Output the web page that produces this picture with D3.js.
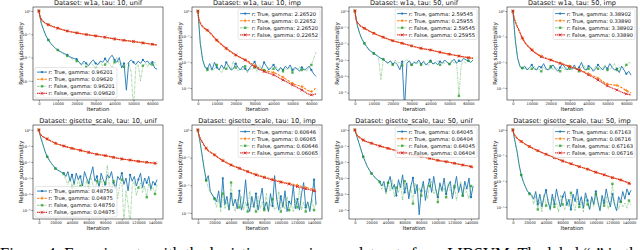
<!DOCTYPE html>
<html><head><meta charset="utf-8">
<script src="https://cdn.jsdelivr.net/npm/d3@7"></script>
<style>body{margin:0;background:#fff;overflow:hidden}svg{display:block}</style>
</head><body>
<svg id="c" width="640" height="250"></svg>
<script>
// ---------- DATA (values are log10 of relative suboptimality) ----------
const iterTop = [0,1250,2500,3750,5000,6250,7500,8750,10000,11250,12500,13750,15000,16250,17500,18750,20000,21250,22500,23750,25000,26250,27500,28750,30000,31250,32500,33750,35000,36250,37500,38750,40000,41250,42500,43750,45000,46250,47500,48750,50000,51250,52500,53750,55000,56250,57500,58750,60000,61250,62500];
const iterBot = [0,2500,5000,7500,10000,12500,15000,17500,20000,22500,25000,27500,30000,32500,35000,37500,40000,42500,45000,47500,50000,52500,55000,57500,60000,62500,65000,67500,70000,72500,75000,77500,80000,82500,85000,87500,90000,92500,95000,97500,100000,102500,105000,107500,110000,112500,115000,117500,120000,122500,125000,127500,130000,132500,135000,137500,140000,142500];
const iterSmoothTop = [0,500,1000,2000,3000,5000,10000,15000,20000,25000,30000,35000,40000,45000,50000,55000,60000,62500];
const iterSmoothBot = [0,1000,2500,5000,10000,20000,30000,40000,50000,60000,70000,80000,90000,100000,110000,120000,130000,140000,142500];

const xTicksTop = [0,10000,20000,30000,40000,50000,60000];
const xTicksBot = [0,20000,40000,60000,80000,100000,120000,140000];

const titles = ["Dataset: w1a, tau: 10, unif","Dataset: w1a, tau: 10, imp","Dataset: w1a, tau: 50, unif","Dataset: w1a, tau: 50, imp",
  "Dataset: gisette_scale, tau: 10, unif","Dataset: gisette_scale, tau: 10, imp","Dataset: gisette_scale, tau: 50, unif","Dataset: gisette_scale, tau: 50, imp"];
const gammas = [["0.96201","0.09620"],["2.26520","0.22652"],["2.59545","0.25955"],["3.38902","0.33890"],
  ["0.48750","0.04875"],["0.60646","0.06065"],["0.64045","0.06404"],["0.67163","0.06716"]];
const yTickExps = [[0,-1,-2,-3],[0,-1,-2,-3],[0,-1,-2,-3,-4,-5],[0,-1,-2,-3],[0,-1,-2,-3,-4,-5],[0,-1,-2,-3],[0,-1,-2,-3,-4,-5],[0,-1,-2,-3]];

// panel 1: w1a tau 10 unif
const p1_blue = [0,-0.53,-0.81,-1.07,-1.24,-1.39,-1.5,-1.6,-1.67,-1.74,-1.79,-1.84,-1.89,-1.96,-2.01,-2.04,-2.07,-2.2,-2.3,-2.15,-2.25,-2.35,-2.2,-2.1,-2.25,-2.3,-2.15,-2.2,-2.05,-2.2,-2.0,-1.9,-2.1,-2.2,-2.0,-2.45,-2.25,-3.4,-2.2,-2.1,-2.2,-2.3,-2.15,-2.25,-2.1,-2.2,-2.15,-2.3,-2.2,-2.45,-2.5];
const p1_green = [0,-0.54,-0.82,-1.08,-1.25,-1.4,-1.51,-1.61,-1.68,-1.76,-1.82,-1.88,-1.93,-2.0,-2.06,-2.1,-2.15,-2.2,-2.35,-2.25,-2.4,-2.3,-2.2,-2.35,-2.45,-2.3,-2.2,-2.35,-2.3,-2.15,-2.3,-2.4,-2.2,-2.0,-2.3,-2.25,-2.4,-2.3,-2.2,-2.6,-4.2,-2.4,-2.3,-3.0,-2.35,-2.25,-2.4,-2.2,-2.3,-2.2,-2.35];
const p1_red = [0,-0.21,-0.31,-0.43,-0.5,-0.59,-0.74,-0.86,-0.94,-1.01,-1.07,-1.13,-1.2,-1.26,-1.31,-1.37,-1.43,-1.46];
const p1_orange = [0,-0.21,-0.31,-0.43,-0.5,-0.59,-0.74,-0.86,-0.94,-1.01,-1.07,-1.13,-1.2,-1.26,-1.31,-1.37,-1.43,-1.46];
// panel 2: w1a tau 10 imp
const p2_blue = [0,-1.26,-1.9,-2.2,-2.25,-2.05,-2.3,-2.0,-2.2,-2.3,-2.1,-2.25,-2.0,-2.15,-2.3,-2.25,-2.05,-2.2,-2.3,-2.15,-2.25,-2.35,-2.2,-2.1,-1.98,-2.2,-2.3,-2.25,-2.0,-2.15,-2.3,-2.2,-2.1,-2.25,-2.35,-2.2,-2.3,-2.15,-2.25,-2.1,-2.3,-2.2,-2.25,-2.35,-2.2,-2.3,-2.25,-2.15,-2.3,-2.45,-2.55];
const p2_green = [0,-1.25,-1.88,-2.15,-2.3,-2.2,-2.35,-2.25,-2.1,-2.3,-2.4,-2.2,-2.25,-2.1,-2.3,-1.95,-2.2,-2.35,-2.25,-2.3,-2.15,-2.4,-2.25,-2.3,-2.2,-2.35,-2.1,-2.25,-2.3,-2.4,-2.2,-2.3,-2.25,-2.15,-2.3,-2.2,-2.35,-2.25,-2.3,-2.2,-2.4,-2.25,-2.3,-2.15,-2.3,-2.25,-2.35,-2.2,-2.1,-1.85,-1.6];
const p2_red = [0,-0.29,-0.42,-0.55,-0.64,-0.74,-1.13,-1.45,-1.71,-1.91,-2.17,-2.36,-2.49,-2.69,-2.88,-3.08,-3.27,-3.23];
const p2_orange = [0,-0.3,-0.43,-0.56,-0.65,-0.76,-1.15,-1.47,-1.72,-1.9,-2.12,-2.32,-2.4,-2.58,-2.82,-2.95,-3.14,-2.97];
// panel 3: w1a tau 50 unif
const p3_blue = [0,-0.86,-1.37,-1.73,-1.98,-2.18,-2.39,-2.49,-2.59,-2.69,-2.8,-2.9,-2.96,-3.1,-3.2,-3.05,-3.25,-3.15,-3.3,-3.6,-3.1,-6.0,-3.2,-3.05,-3.3,-3.15,-3.2,-3.0,-3.25,-3.1,-3.3,-3.2,-3.05,-3.25,-3.15,-3.3,-3.1,-3.2,-3.0,-3.15,-3.25,-3.1,-2.95,-3.2,-3.05,-3.1,-2.9,-3.0,-3.05,-3.15,-3.0];
const p3_green = [0,-0.87,-1.38,-1.74,-1.99,-2.2,-2.4,-2.5,-2.62,-2.72,-2.85,-4.2,-2.95,-3.05,-3.2,-3.1,-3.3,-3.0,-3.2,-3.15,-3.35,-3.1,-2.95,-3.2,-3.3,-3.1,-3.25,-3.15,-3.3,-3.05,-3.2,-3.35,-3.1,-3.25,-3.2,-3.05,-3.3,-3.15,-3.2,-3.1,-3.25,-3.0,-3.2,-3.1,-5.2,-3.3,-3.1,-3.2,-3.05,-3.15,-3.0];
const p3_red = [0,-0.45,-0.65,-0.8,-0.92,-1.06,-1.37,-1.61,-1.82,-1.98,-2.14,-2.29,-2.39,-2.53,-2.65,-2.76,-2.86,-2.9];
const p3_orange = [0,-0.45,-0.65,-0.8,-0.92,-1.06,-1.37,-1.61,-1.82,-1.98,-2.14,-2.29,-2.39,-2.53,-2.65,-2.76,-2.86,-2.9];
// panel 4: w1a tau 50 imp
const p4_blue = [0,-1.13,-1.84,-2.17,-2.23,-2.15,-2.3,-2.2,-2.1,-2.25,-2.3,-2.15,-2.2,-2.05,-2.25,-2.3,-2.2,-2.1,-2.25,-2.35,-2.2,-2.05,-2.2,-2.3,-2.15,-2.25,-2.1,-2.3,-2.2,-2.0,-2.25,-2.3,-2.15,-2.2,-2.35,-2.25,-2.1,-2.2,-2.3,-2.15,-2.25,-2.05,-2.2,-2.3,-2.25,-2.4,-2.15,-2.3,-2.45,-2.35,-2.5];
const p4_green = [0,-1.12,-1.83,-2.15,-2.22,-2.25,-2.2,-2.3,-2.25,-2.15,-2.3,-2.25,-2.35,-2.2,-2.3,-2.25,-2.15,-2.3,-2.2,-2.25,-2.35,-2.2,-2.3,-2.15,-2.25,-2.3,-2.2,-2.25,-2.35,-2.2,-2.1,-2.3,-2.25,-2.2,-2.3,-2.15,-2.25,-2.3,-2.2,-2.1,-2.3,-2.25,-2.2,-2.05,-2.3,-2.2,-2.15,-2.25,-2.1,-2.0,-2.05];
const p4_red = [0,-0.22,-0.35,-0.55,-0.71,-1.05,-1.52,-1.78,-1.91,-2.04,-2.17,-2.3,-2.49,-2.69,-2.92,-3.08,-3.23,-3.27];
const p4_orange = [0,-0.23,-0.36,-0.56,-0.72,-1.06,-1.5,-1.76,-1.9,-2.03,-2.15,-2.28,-2.45,-2.62,-2.85,-2.9,-3.1,-3.2];
// panel 5: gisette tau 10 unif
const p5_blue = [0,-0.52,-0.94,-1.35,-1.67,-1.88,-2.08,-2.23,-2.4,-2.5,-2.56,-2.65,-2.7,-2.9,-2.6,-3.2,-2.8,-3.4,-2.7,-3.1,-2.9,-3.5,-2.6,-3.0,-3.3,-2.8,-2.3,-3.2,-2.9,-3.6,-2.7,-3.1,-3.4,-2.8,-3.0,-2.6,-3.3,-3.7,-2.9,-3.1,-2.7,-3.4,-3.0,-3.8,-2.8,-3.2,-2.9,-3.5,-3.1,-2.7,-3.6,-3.0,-3.3,-2.9,-3.7,-3.2,-3.4,-3.1];
const p5_green = [0,-0.53,-0.95,-1.36,-1.68,-1.9,-2.1,-2.25,-2.42,-2.52,-2.6,-2.7,-2.75,-3.1,-3.4,-2.9,-3.6,-3.2,-3.9,-3.0,-3.5,-3.3,-4.0,-3.1,-3.6,-2.9,-3.4,-3.8,-3.2,-3.5,-3.0,-3.7,-3.3,-2.2,-3.6,-3.9,-3.2,-3.5,-4.3,-3.4,-3.1,-5.8,-3.8,-4.6,-5.9,-3.5,-3.2,-4.1,-3.6,-3.3,-3.9,-3.5,-4.2,-3.3,-3.8,-3.6,-4.0,-3.4];
const p5_red = [0,-0.21,-0.31,-0.42,-0.56,-0.83,-1.0,-1.15,-1.27,-1.4,-1.52,-1.6,-1.71,-1.81,-1.88,-1.96,-2.02,-2.08,-2.1];
const p5_orange = [0,-0.21,-0.31,-0.42,-0.56,-0.83,-1.0,-1.15,-1.27,-1.4,-1.52,-1.6,-1.71,-1.81,-1.88,-1.96,-2.02,-2.08,-2.1];
// panel 6: gisette tau 10 imp
const p6_blue = [0,-0.42,-0.9,-1.39,-1.81,-1.65,-2.23,-2.35,-2.47,-2.6,-2.2,-2.8,-1.75,-2.7,-2.4,-2.9,-2.3,-2.75,-2.5,-2.85,-2.2,-2.9,-2.6,-1.8,-2.7,-2.95,-2.4,-2.8,-2.3,-2.9,-2.5,-2.1,-2.85,-2.6,-2.95,-2.3,-2.75,-1.65,-2.5,-2.9,-2.4,-2.8,-2.2,-2.95,-2.6,-2.7,-2.0,-2.85,-2.5,-2.9,-2.3,-1.9,-2.8,-2.6,-2.95,-2.4,-1.8,-2.7];
const p6_green = [0,-0.43,-0.92,-1.4,-1.83,-2.08,-2.25,-2.38,-2.5,-2.8,-2.5,-2.95,-2.3,-2.85,-2.6,-2.9,-1.9,-2.7,-2.95,-2.5,-2.8,-2.4,-2.9,-2.6,-2.95,-2.2,-2.8,-2.7,-2.95,-2.4,-2.85,-2.6,-2.9,-2.3,-2.95,-2.7,-2.5,-2.9,-2.8,-2.2,-2.95,-2.6,-2.85,-2.4,-2.9,-2.7,-2.95,-2.5,-2.8,-2.1,-2.9,-2.6,-2.95,-2.7,-2.85,-2.5,-2.9,-2.6];
const p6_red = [0,-0.16,-0.28,-0.42,-0.66,-0.9,-1.11,-1.27,-1.39,-1.51,-1.63,-1.72,-1.81,-1.89,-1.96,-2.05,-2.13,-2.2,-2.23];
const p6_orange = [0,-0.17,-0.29,-0.43,-0.67,-0.9,-1.1,-1.26,-1.38,-1.5,-1.6,-1.7,-1.78,-1.87,-1.93,-2.0,-2.08,-2.17,-2.25];
// panel 7: gisette tau 50 unif
const p7_blue = [0,-0.42,-0.83,-1.25,-1.67,-1.98,-2.29,-2.5,-2.71,-2.85,-3.02,-3.12,-3.23,-3.5,-3.2,-3.9,-3.3,-2.9,-3.7,-3.4,-4.1,-3.1,-3.6,-2.8,-3.9,-3.3,-4.3,-3.5,-3.0,-4.0,-3.4,-5.3,-3.8,-3.2,-4.4,-3.6,-3.1,-3.9,-2.9,-3.7,-4.2,-3.3,-3.8,-3.0,-4.0,-3.5,-3.2,-4.3,-3.6,-2.9,-3.9,-3.4,-4.1,-3.2,-3.7,-3.0,-4.2,-3.5];
const p7_green = [0,-0.43,-0.84,-1.26,-1.68,-2.0,-2.3,-2.52,-2.73,-2.88,-3.05,-3.15,-3.26,-3.7,-3.4,-4.0,-3.3,-3.8,-3.1,-4.2,-3.6,-3.9,-3.4,-4.4,-3.2,-3.7,-4.0,-3.5,-4.6,-3.3,-3.9,-3.6,-4.1,-3.4,-3.8,-4.3,-3.5,-3.2,-4.0,-3.7,-4.5,-3.4,-3.9,-3.6,-4.2,-3.3,-3.8,-4.0,-3.5,-4.4,-3.7,-3.2,-4.1,-3.6,-3.9,-4.3,-3.5,-3.8];
const p7_red = [0,-0.15,-0.31,-0.44,-0.63,-0.83,-1.0,-1.15,-1.29,-1.42,-1.54,-1.67,-1.77,-1.9,-1.98,-2.08,-2.19,-2.29,-2.33];
const p7_orange = [0,-0.15,-0.31,-0.44,-0.63,-0.83,-1.0,-1.15,-1.29,-1.42,-1.54,-1.67,-1.77,-1.9,-1.98,-2.08,-2.19,-2.29,-2.33];
// panel 8: gisette tau 50 imp
const p8_blue = [0,-0.45,-0.84,-1.36,-1.75,-2.01,-2.21,-2.38,-2.47,-2.53,-2.7,-2.4,-2.9,-2.5,-3.0,-2.6,-2.35,-2.8,-3.1,-2.5,-2.9,-2.3,-2.7,-3.0,-2.6,-2.4,-2.95,-2.7,-3.1,-2.5,-2.8,-2.3,-2.9,-2.6,-3.05,-2.45,-2.75,-3.1,-2.6,-2.9,-2.4,-2.8,-3.15,-2.55,-2.85,-2.3,-2.7,-3.0,-2.5,-2.9,-3.15,-2.6,-2.8,-2.4,-2.7,-2.3,-2.5,-2.35];
const p8_green = [0,-0.46,-0.85,-1.37,-1.76,-2.03,-2.23,-2.4,-2.5,-2.56,-2.9,-2.6,-3.1,-2.75,-3.2,-2.5,-2.95,-2.7,-3.15,-2.6,-3.0,-2.8,-3.2,-2.55,-2.9,-3.1,-2.7,-3.0,-2.45,-2.85,-3.15,-2.65,-3.0,-2.8,-3.2,-2.6,-2.9,-3.1,-2.7,-3.0,-2.5,-2.85,-3.15,-2.7,-2.95,-2.6,-3.1,-2.8,-2.1,-2.9,-2.9,-3.1,-2.8,-3.0,-2.85,-3.05,-2.75,-2.95];
const p8_red = [0,-0.13,-0.22,-0.32,-0.45,-0.65,-0.81,-0.95,-1.08,-1.21,-1.32,-1.43,-1.53,-1.65,-1.75,-1.86,-1.95,-2.08,-2.12];
const p8_orange = [0,-0.13,-0.22,-0.32,-0.45,-0.65,-0.81,-0.95,-1.08,-1.21,-1.32,-1.43,-1.53,-1.65,-1.75,-1.86,-1.95,-2.08,-2.12];

const caption = "Figure 4: Experiments with the logistic regression on datasets from LIBSVM. The label \u201cr\u201d in the legend refers to whether";

// ---------- LAYOUT ----------
const colLeft = [33,192,349,507];
const rowTop = [7,125];
const rowH = [93,94];
const PW = 130;
// axis limits (log10) and legend location per panel
const yLimits = [[0.17,-3.82],[0.16,-3.47],[0.24,-5.45],[0.16,-3.47],[0.31,-5.56],[0.18,-3.22],[0.31,-5.56],[0.19,-3.47]];
const legendLoc = ['ll','ur','ur','ur','ll','ur','ur','ur'];

const seriesSets = [
  [p1_blue,p1_orange,p1_green,p1_red],[p2_blue,p2_orange,p2_green,p2_red],
  [p3_blue,p3_orange,p3_green,p3_red],[p4_blue,p4_orange,p4_green,p4_red],
  [p5_blue,p5_orange,p5_green,p5_red],[p6_blue,p6_orange,p6_green,p6_red],
  [p7_blue,p7_orange,p7_green,p7_red],[p8_blue,p8_orange,p8_green,p8_red]];

const styles = [
  {color:'#1f77b4', width:0.9, dash:null, op:1, mop:1, marker:'circle'},
  {color:'#ff7f0e', width:1.1, dash:'2.5,1.2', op:1, mop:1, marker:'plus'},
  {color:'#2ca02c', width:0.9, dash:'2.6,0.8,0.8,0.8', op:0.45, mop:0.8, marker:'square'},
  {color:'#d62728', width:1.15, dash:'1.3,0.5', op:0.95, mop:1, marker:'x'}
];
const FONT = "DejaVu Sans, sans-serif";
const svg = d3.select('#c');

function marker(g, type, cx, cy, color, op) {
  if (type === 'circle') g.append('circle').attr('cx',cx).attr('cy',cy).attr('r',1.15).attr('fill',color).attr('opacity',op);
  else if (type === 'square') g.append('rect').attr('x',cx-1.2).attr('y',cy-1.2).attr('width',2.4).attr('height',2.4).attr('fill',color).attr('opacity',op);
  else if (type === 'plus') g.append('path').attr('d',`M${cx-1.6},${cy}H${cx+1.6}M${cx},${cy-1.6}V${cy+1.6}`).attr('stroke',color).attr('stroke-width',0.8).attr('fill','none').attr('opacity',op);
  else g.append('path').attr('d',`M${cx-1.3},${cy-1.3}L${cx+1.3},${cy+1.3}M${cx-1.3},${cy+1.3}L${cx+1.3},${cy-1.3}`).attr('stroke',color).attr('stroke-width',0.9).attr('fill','none').attr('opacity',op);
}
const supMap = {'0':'\u2070','1':'\u00b9','2':'\u00b2','3':'\u00b3','4':'\u2074','5':'\u2075','6':'\u2076','-':'\u207b'};
const supFmt = e => '10' + String(e).split('').map(c => supMap[c]).join('');

titles.forEach((title, i) => {
  const row = i < 4 ? 0 : 1, col = i % 4;
  const x0 = colLeft[col], y0 = rowTop[row], h = rowH[row], w = PW;
  const iters = row === 0 ? iterTop : iterBot;
  const itersS = row === 0 ? iterSmoothTop : iterSmoothBot;
  const xMax = iters[iters.length-1];
  const markStep = row === 0 ? 5000 : 10000;
  const x = d3.scaleLinear().domain([-0.05*xMax, 1.05*xMax]).range([x0, x0+w]);
  const y = d3.scaleLog().domain([Math.pow(10,yLimits[i][1]), Math.pow(10,yLimits[i][0])]).range([y0+h, y0]);
  const g = svg.append('g');
  svg.append('clipPath').attr('id','cl'+i).append('rect').attr('x',x0).attr('y',y0).attr('width',w).attr('height',h);
  const plot = g.append('g').attr('clip-path',`url(#cl${i})`);

  seriesSets[i].forEach((vals, k) => {
    const st = styles[k];
    const xs = (k === 0 || k === 2) ? iters : itersS;
    const n = Math.min(xs.length, vals.length);
    const pts = d3.range(n).map(j => [xs[j], Math.pow(10, vals[j])]);
    const line = d3.line().x(d => x(d[0])).y(d => y(d[1]));
    if (k === 1 || k === 3) line.curve(d3.curveMonotoneX);
    plot.append('path').attr('d', line(pts)).attr('fill','none').attr('stroke',st.color)
      .attr('stroke-width',st.width).attr('stroke-dasharray',st.dash).attr('opacity',st.op).attr('stroke-linejoin','round');
    const mg = plot.append('g');
    pts.forEach((d, j) => {
      const isMark = (k === 0 || k === 2) ? (j % 4 === 0) : (d[0] % markStep === 0);
      if (isMark) marker(mg, st.marker, x(d[0]), y(d[1]), st.color, st.mop);
    });
  });

  // frame
  g.append('rect').attr('x',x0).attr('y',y0).attr('width',w).attr('height',h)
    .attr('fill','none').attr('stroke','#222').attr('stroke-width',0.6);

  // axes
  const xAx = g.append('g').attr('transform',`translate(0,${y0+h})`)
    .call(d3.axisBottom(x).tickValues(row === 0 ? xTicksTop : xTicksBot).tickFormat(d3.format('d')).tickSize(1.6).tickPadding(1.2));
  const yAx = g.append('g').attr('transform',`translate(${x0},0)`)
    .call(d3.axisLeft(y).tickValues(yTickExps[i].map(e => Math.pow(10,e))).tickFormat((d, j) => supFmt(yTickExps[i][j])).tickSize(1.6).tickPadding(1.0));
  [xAx, yAx].forEach(a => {
    a.select('.domain').remove();
    a.attr('font-family', FONT).attr('font-size', 3.6);
    a.selectAll('line').attr('stroke','#222').attr('stroke-width',0.5);
    a.selectAll('text').attr('fill','#111');
  });

  // labels
  g.append('text').attr('x',x0+w/2).attr('y',y0-1.6).attr('text-anchor','middle')
    .attr('font-family',FONT).attr('font-size',6.6).attr('fill','#111').text(title);
  g.append('text').attr('x',x0+w/2).attr('y',y0+h+11.3).attr('text-anchor','middle')
    .attr('font-family',FONT).attr('font-size',5.4).attr('fill','#111').text('Iteration');
  g.append('text').attr('transform',`translate(${x0-12},${y0+h/2}) rotate(-90)`).attr('dy','0.35em')
    .attr('text-anchor','middle').attr('font-family',FONT).attr('font-size',5.6).attr('fill','#111').text('Relative suboptimality');

  // legend
  const labels = [`r: True, gamma: ${gammas[i][0]}`,`r: True, gamma: ${gammas[i][1]}`,`r: False, gamma: ${gammas[i][0]}`,`r: False, gamma: ${gammas[i][1]}`];
  const lg = g.append('g');
  const box = lg.append('rect');
  const tw = [];
  const texts = labels.map((lab, k) => lg.append('text').attr('font-family',FONT).attr('font-size',5.2).attr('fill','#111').text(lab));
  texts.forEach(t => tw.push(t.node().getComputedTextLength()));
  const bw = 13.5 + d3.max(tw) + 2, spacing = 7.1, bh = 4.6*2 + spacing*3;
  const bx = legendLoc[i] === 'll' ? x0 + 2 : x0 + w - 2 - bw;
  const by = legendLoc[i] === 'll' ? y0 + h - 2 - bh : y0 + 2;
  box.attr('x',bx).attr('y',by).attr('width',bw).attr('height',bh).attr('rx',1.2)
    .attr('fill','#fff').attr('fill-opacity',0.8).attr('stroke','#ccc').attr('stroke-width',0.5);
  texts.forEach((t, k) => {
    const cy = by + 4.6 + k*spacing;
    t.attr('x', bx + 13.5).attr('y', cy + 1.9);
    const st = styles[k];
    lg.append('line').attr('x1',bx+2).attr('x2',bx+12).attr('y1',cy).attr('y2',cy)
      .attr('stroke',st.color).attr('stroke-width',st.width).attr('stroke-dasharray',st.dash).attr('opacity',Math.max(st.op,0.6));
    marker(lg, st.marker, bx+7, cy, st.color, st.mop);
  });
});

svg.append('text').attr('x',0).attr('y',259).attr('font-family','Liberation Serif, serif')
  .attr('font-size',16.5).attr('fill','#000').text(caption);
</script>
</body></html>
